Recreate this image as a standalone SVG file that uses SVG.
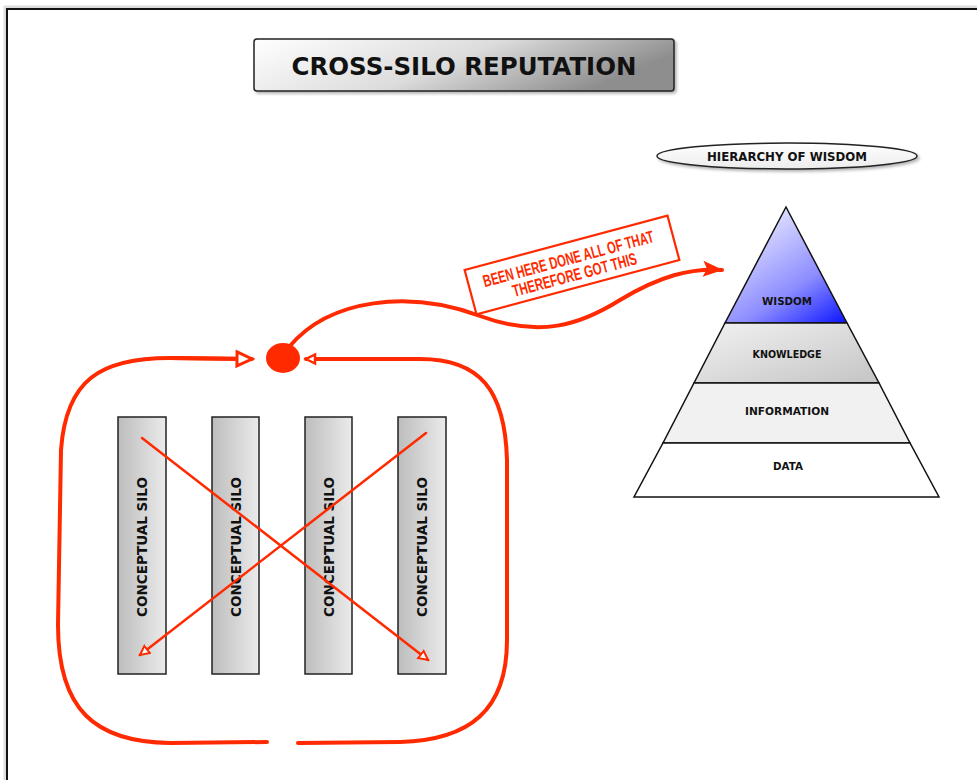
<svg xmlns="http://www.w3.org/2000/svg" width="977" height="780" viewBox="0 0 977 780">
<style>
.lbl{font-family:"DejaVu Sans","Liberation Sans",sans-serif;font-weight:bold;fill:#111;text-anchor:middle}
.red{stroke:#ff2a00;fill:none;stroke-linecap:round}
.silo rect{fill:url(#gSilo);stroke:#222;stroke-width:1.5}
.pyr{stroke:#111;stroke-width:1.5}
.call{font-family:"Liberation Sans Narrow","Liberation Sans",sans-serif;font-weight:bold;font-size:17px;fill:#ff2a00;text-anchor:middle}
</style>
<defs>
<linearGradient id="gTitle" x1="0" y1="0" x2="1" y2="0.3">
<stop offset="0" stop-color="#ffffff"/><stop offset="0.55" stop-color="#dcdcdc"/><stop offset="1" stop-color="#8e8e8e"/>
</linearGradient>
<linearGradient id="gPill" x1="0" y1="0" x2="0" y2="1">
<stop offset="0" stop-color="#ffffff"/><stop offset="1" stop-color="#ececec"/>
</linearGradient>
<linearGradient id="gSilo" x1="0" y1="0" x2="1" y2="0">
<stop offset="0" stop-color="#bdbdbd"/><stop offset="1" stop-color="#ebebeb"/>
</linearGradient>
<linearGradient id="gWis" x1="0.3" y1="0" x2="1" y2="1">
<stop offset="0" stop-color="#ececff"/><stop offset="0.6" stop-color="#8c8cff"/><stop offset="1" stop-color="#0a14ff"/>
</linearGradient>
<linearGradient id="gKno" x1="0" y1="0" x2="1" y2="1">
<stop offset="0" stop-color="#f2f2f2"/><stop offset="1" stop-color="#c4c4c4"/>
</linearGradient>
<filter id="sh" x="-10%" y="-20%" width="130%" height="150%">
<feDropShadow dx="2" dy="2" stdDeviation="1.5" flood-color="#000" flood-opacity="0.3"/>
</filter>
<marker id="openArr" markerWidth="12" markerHeight="12" refX="10" refY="6" orient="auto" markerUnits="userSpaceOnUse">
<path d="M1,1.5 L10,6 L1,10.5 Z" fill="#fff" stroke="#ff2a00" stroke-width="2"/>
</marker>
<marker id="openArrBig" markerWidth="20" markerHeight="20" refX="17" refY="10" orient="auto" markerUnits="userSpaceOnUse">
<path d="M2,3 L17,10 L2,17 Z" fill="#fff" stroke="#ff2a00" stroke-width="3"/>
</marker>
<marker id="openArrSm" markerWidth="14" markerHeight="14" refX="11" refY="7" orient="auto" markerUnits="userSpaceOnUse">
<path d="M2,2.5 L11,7 L2,11.5 Z" fill="#fff" stroke="#ff2a00" stroke-width="2.5"/>
</marker>
<marker id="solidArr" markerWidth="26" markerHeight="20" refX="20" refY="10" orient="auto" markerUnits="userSpaceOnUse">
<path d="M1,2 L21,10 L1,18 L5,10 Z" fill="#ff2a00"/>
</marker>
</defs>

<rect x="0" y="0" width="977" height="780" fill="#fff"/>
<rect x="5" y="7" width="1000" height="800" fill="none" stroke="#ddd" stroke-width="3"/>
<rect x="7" y="9" width="1000" height="800" fill="none" stroke="#111" stroke-width="2"/>

<g id="title">
<rect x="254" y="39" width="420" height="52" rx="3" fill="url(#gTitle)" stroke="#222" stroke-width="1.5" filter="url(#sh)"/>
<text class="lbl" x="464" y="75" font-size="25" textLength="345" lengthAdjust="spacingAndGlyphs">CROSS-SILO REPUTATION</text>
</g>

<g id="hierarchy-label">
<rect x="657" y="143" width="260" height="26" rx="130" ry="13" fill="url(#gPill)" stroke="#222" stroke-width="1.5" filter="url(#sh)"/>
<text class="lbl" x="787" y="160.5" font-size="12" textLength="160" lengthAdjust="spacingAndGlyphs">HIERARCHY OF WISDOM</text>
</g>

<g id="pyramid">
<g id="wisdom">
<polygon class="pyr" points="786,207 847,323 725,323" fill="url(#gWis)"/>
<text class="lbl" x="787" y="305" font-size="11" textLength="50" lengthAdjust="spacingAndGlyphs">WISDOM</text>
</g>
<g id="knowledge">
<polygon class="pyr" points="725,323 847,323 879,383 694,383" fill="url(#gKno)"/>
<text class="lbl" x="787" y="358" font-size="11" textLength="69" lengthAdjust="spacingAndGlyphs">KNOWLEDGE</text>
</g>
<g id="information">
<polygon class="pyr" points="694,383 879,383 910,443 663,443" fill="#f1f1f1"/>
<text class="lbl" x="787" y="415" font-size="11" textLength="84" lengthAdjust="spacingAndGlyphs">INFORMATION</text>
</g>
<g id="data">
<polygon class="pyr" points="663,443 910,443 939,497 634,497" fill="#fff"/>
<text class="lbl" x="788" y="470" font-size="11" textLength="30" lengthAdjust="spacingAndGlyphs">DATA</text>
</g>
</g>

<g id="silo1" class="silo">
<rect x="118" y="417" width="48" height="257"/>
<text class="lbl" font-size="14" transform="translate(147,547) rotate(-90)" textLength="140" lengthAdjust="spacingAndGlyphs">CONCEPTUAL SILO</text>
</g>
<g id="silo2" class="silo">
<rect x="212" y="417" width="47" height="257"/>
<text class="lbl" font-size="14" transform="translate(240.5,547) rotate(-90)" textLength="140" lengthAdjust="spacingAndGlyphs">CONCEPTUAL SILO</text>
</g>
<g id="silo3" class="silo">
<rect x="305" y="417" width="47" height="257"/>
<text class="lbl" font-size="14" transform="translate(333.5,547) rotate(-90)" textLength="140" lengthAdjust="spacingAndGlyphs">CONCEPTUAL SILO</text>
</g>
<g id="silo4" class="silo">
<rect x="398" y="417" width="48" height="257"/>
<text class="lbl" font-size="14" transform="translate(427,547) rotate(-90)" textLength="140" lengthAdjust="spacingAndGlyphs">CONCEPTUAL SILO</text>
</g>

<g id="hub">
<ellipse cx="283" cy="358" rx="17" ry="15" fill="#ff2a00"/>
</g>

<g id="callout">
<g transform="translate(572,265) rotate(-15)">
<rect x="-105" y="-23" width="210" height="46" fill="#fff" stroke="#ff2a00" stroke-width="2.2"/>
<text class="call" x="-2" y="-1" textLength="176" lengthAdjust="spacingAndGlyphs">BEEN HERE DONE ALL OF THAT</text>
<text class="call" x="0" y="16" textLength="128" lengthAdjust="spacingAndGlyphs">THEREFORE GOT THIS</text>
</g>
</g>

<g id="connectors">
<path class="red" stroke-width="4" d="M 250 359 L 170 358 C 100 358, 66 380, 61 450 L 58 625 C 58 710, 95 742, 170 743 L 267 742"/>
<path class="red" stroke-width="4" d="M 170 358 L 252 359" marker-end="url(#openArrBig)"/>
<path class="red" stroke-width="4" d="M 298 743 L 400 742 C 470 740, 507 710, 507 640 L 507 460 C 505 390, 480 359, 420 359 L 306 359" marker-end="url(#openArrSm)"/>
<path class="red" stroke-width="4" d="M 289 347 C 330 298, 410 290, 480 316 C 540 338, 580 325, 620 300 C 660 276, 690 268, 722 270" marker-end="url(#solidArr)"/>
<line class="red" stroke-width="2.5" x1="142" y1="438" x2="428" y2="660" marker-end="url(#openArr)"/>
<line class="red" stroke-width="2.5" x1="426" y1="433" x2="140" y2="655" marker-end="url(#openArr)"/>
</g>
</svg>
